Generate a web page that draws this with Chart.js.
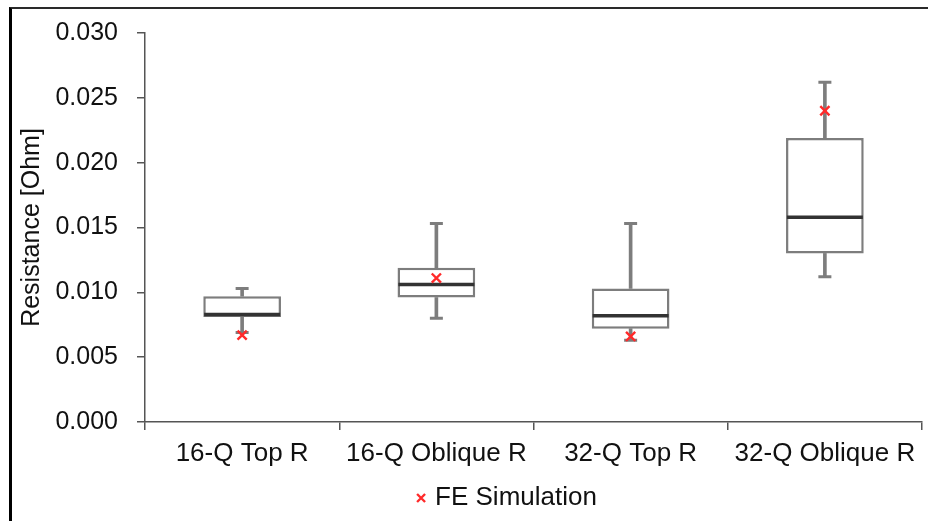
<!DOCTYPE html>
<html>
<head>
<meta charset="utf-8">
<script src="https://cdn.jsdelivr.net/npm/chart.js@4/dist/chart.umd.min.js"></script>
<style>
  html, body { margin: 0; padding: 0; background: #fff; }
  #wrap { position: relative; width: 928px; height: 521px; overflow: hidden; }
  #frame { position: absolute; left: 9px; top: 7px; right: -4px; bottom: -4px;
           border-left: 3px solid #000; border-top: 2px solid #2a2a2a; pointer-events: none; }
  canvas { display: block; }
</style>
</head>
<body>
<div id="wrap">
  <canvas id="chart" width="928" height="521"></canvas>
  <div id="frame"></div>
</div>
<script>
// Resistance distributions per configuration (Ohm)
const categories   = ['16-Q Top R', '16-Q Oblique R', '32-Q Top R', '32-Q Oblique R'];
const whiskerMin   = [0.0069, 0.0080, 0.0063, 0.0112];
const quartile1    = [0.0081, 0.0096, 0.0072, 0.0130];
const median       = [0.0083, 0.0106, 0.0082, 0.0158];
const quartile3    = [0.0097, 0.0119, 0.0103, 0.0219];
const whiskerMax   = [0.0103, 0.0153, 0.0153, 0.0262];
const feSimulation = [0.0067, 0.0111, 0.0066, 0.0240];
const yTicks       = [0.000, 0.005, 0.010, 0.015, 0.020, 0.025, 0.030];

const GREY = '#7d7d7d';
const DARK = '#333333';
const RED  = '#ff2a2a';
const FONT = "'Liberation Sans', Arial, sans-serif";

const pairs = (a, b) => a.map((v, i) => [v, b[i]]);

// Legend sits a little left of the plot centre
const legendOffset = {
  id: 'legendOffset',
  afterLayout(chart) {
    const lg = chart.legend;
    const shift = -25;
    lg.left += shift;
    lg.right += shift;
  }
};

new Chart(document.getElementById('chart'), {
  type: 'bar',
  data: {
    labels: categories,
    datasets: [
      {
        label: 'FE Simulation',
        type: 'line',
        data: feSimulation,
        showLine: false,
        pointStyle: 'crossRot',
        pointRadius: 6.5,
        pointBorderWidth: 2.4,
        borderWidth: 2.4,
        borderColor: RED,
        backgroundColor: RED,
        pointBorderColor: RED,
        order: 0
      },
      {
        label: 'Median',
        type: 'line',
        data: median,
        showLine: false,
        pointStyle: 'line',
        pointRadius: 38,
        pointBorderWidth: 3.5,
        pointBorderColor: DARK,
        borderColor: DARK,
        order: 1
      },
      {
        label: 'Upper cap',
        type: 'line',
        data: whiskerMax,
        showLine: false,
        pointStyle: 'line',
        pointRadius: 6.5,
        pointBorderWidth: 3,
        pointBorderColor: GREY,
        borderColor: GREY,
        order: 2
      },
      {
        label: 'Lower cap',
        type: 'line',
        data: whiskerMin,
        showLine: false,
        pointStyle: 'line',
        pointRadius: 6.5,
        pointBorderWidth: 3,
        pointBorderColor: GREY,
        borderColor: GREY,
        order: 2
      },
      {
        label: 'Box',
        data: pairs(quartile1, quartile3),
        grouped: false,
        categoryPercentage: 1,
        barPercentage: 0.4,
        backgroundColor: '#ffffff',
        borderColor: GREY,
        borderWidth: 2.5,
        borderSkipped: false,
        order: 3
      },
      {
        label: 'Upper whisker',
        data: pairs(quartile3, whiskerMax),
        grouped: false,
        barThickness: 3,
        backgroundColor: GREY,
        borderWidth: 0,
        order: 4
      },
      {
        label: 'Lower whisker',
        data: pairs(whiskerMin, quartile1),
        grouped: false,
        barThickness: 3,
        backgroundColor: GREY,
        borderWidth: 0,
        order: 4
      }
    ]
  },
  options: {
    responsive: false,
    animation: false,
    events: [],
    layout: { autoPadding: false, padding: { top: 33, right: 6, bottom: 0, left: 0 } },
    plugins: {
      tooltip: { enabled: false },
      legend: {
        position: 'bottom',
        fullSize: false,
        labels: {
          filter: item => item.text === 'FE Simulation',
          usePointStyle: true,
          boxWidth: 2,
          boxHeight: 8,
          padding: 8,
          color: '#111',
          font: { family: FONT, size: 26 }
        }
      }
    },
    scales: {
      x: {
        offset: true,
        grid: { offset: true, drawOnChartArea: false, drawTicks: true, tickLength: 8, color: '#555', lineWidth: 1.5 },
        border: { color: '#555', width: 1.5 },
        ticks: { color: '#111', padding: 8, font: { family: FONT, size: 26 }, maxRotation: 0, autoSkip: false },
        afterFit(scale) {
          scale.height = 55;
          scale.paddingLeft = 0;
          scale.paddingRight = 0;
        }
      },
      y: {
        min: yTicks[0],
        max: yTicks[yTicks.length - 1],
        afterBuildTicks(scale) { scale.ticks = yTicks.map(v => ({ value: v })); },
        grid: { drawOnChartArea: false, drawTicks: true, tickLength: 8, color: '#555', lineWidth: 1.5 },
        border: { color: '#555', width: 1.5 },
        ticks: {
          color: '#111',
          padding: 19,
          font: { family: FONT, size: 25 },
          callback: v => Number(v).toFixed(3)
        },
        title: {
          display: true,
          text: 'Resistance [Ohm]',
          color: '#111',
          padding: { top: 17, bottom: 0 },
          font: { family: FONT, size: 25 }
        },
        afterFit(scale) {
          scale.width = 145;
          scale.paddingTop = 0;
          scale.paddingBottom = 0;
        }
      }
    }
  },
  plugins: [legendOffset]
});
</script>
</body>
</html>
